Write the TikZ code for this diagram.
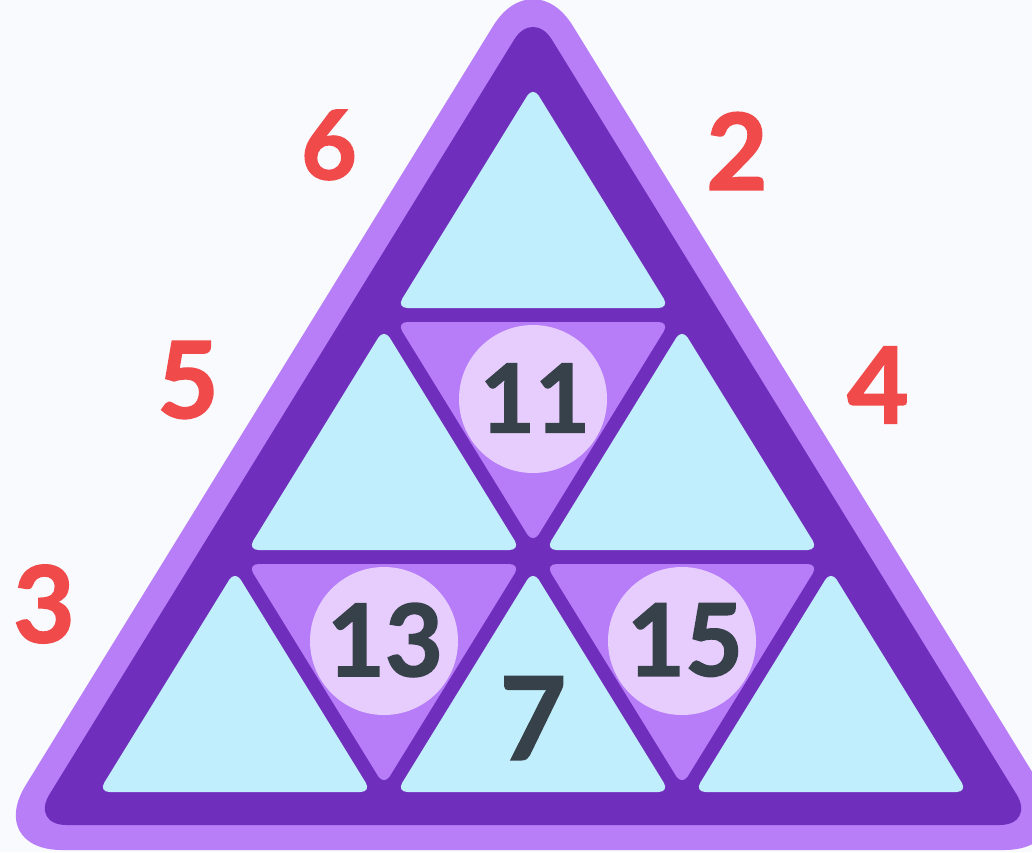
\documentclass[tikz,border=0pt]{standalone}
\usepackage{fontspec}
\setmainfont{Lato}[BoldFeatures={FakeBold=1.6}]
\definecolor{bg}{HTML}{F9FAFE}
\definecolor{lightpurple}{HTML}{B77EF7}
\definecolor{darkpurple}{HTML}{702EBD}
\definecolor{cellblue}{HTML}{C0EEFC}
\definecolor{invpurple}{HTML}{B77CF8}
\definecolor{circlelav}{HTML}{E6CDFE}
\definecolor{ink}{HTML}{37414A}
\definecolor{redink}{HTML}{F04A4A}
\newcommand{\upcell}[2]{\fill[cellblue, rounded corners=11pt] (#1, #2+13.4) -- (#1+136.5, #2+235) -- (#1-136.5, #2+235) -- cycle;}
\newcommand{\downcell}[2]{\fill[invpurple, rounded corners=11pt] (#1-136.5, #2+7) -- (#1+136.5, #2+7) -- (#1, #2+228.6) -- cycle;}
\begin{document}
\begin{tikzpicture}[x=1pt,y=-1pt,
  num/.style={font=\bfseries\fontsize{95}{95}\selectfont, text=ink, inner sep=0pt},
  side/.style={font=\bfseries\fontsize{106}{106}\selectfont, text=redink, inner sep=0pt},
  disc/.style={fill=circlelav}]
\useasboundingbox (0,0) rectangle (1032,852);
\clip (0,0) rectangle (1032,852);
\fill[bg] (0,0) rectangle (1032,852);
% outer frame
\fill[lightpurple, rounded corners=76pt] (533,-38.8) -- (1080.2,850) -- (-14.2,850) -- cycle;
\fill[darkpurple, rounded corners=36pt] (533,9) -- (1035.4,825) -- (30.6,825) -- cycle;
% cells
\upcell{533}{73}
\upcell{384}{315}
\upcell{682}{315}
\upcell{235}{557}
\upcell{533}{557}
\upcell{831}{557}
\downcell{533}{315}
\downcell{384}{557}
\downcell{682}{557}
% discs
\fill[disc] (533,399) circle[radius=74pt];
\fill[disc] (384,641) circle[radius=74pt];
\fill[disc] (682,641) circle[radius=74pt];
% numbers
\node[num] (n11) at (535,398) {11};
\node[num, font=\bfseries\fontsize{100}{100}\selectfont] (n13) at (385,640) {13};
\node[num, font=\bfseries\fontsize{100}{100}\selectfont] (n15) at (685,640) {15};
\node[num, font=\bfseries\fontsize{115}{115}\selectfont] (n7) at (533,718) {7};
% side numbers
\node[side, font=\bfseries\fontsize{96}{96}\selectfont] (s6) at (329,145) {6};
\node[side] (s2) at (737,151) {2};
\node[side] (s5) at (188,380) {5};
\node[side] (s4) at (878,385) {4};
\node[side] (s3) at (44,604) {3};
\end{tikzpicture}
\end{document}
